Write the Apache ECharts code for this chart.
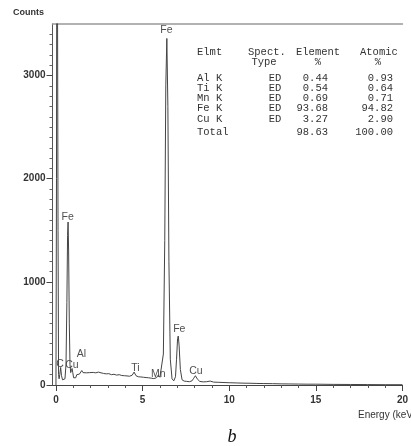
<!DOCTYPE html>
<html>
<head>
<meta charset="utf-8">
<script src="https://cdn.jsdelivr.net/npm/echarts@6.0.0/dist/echarts.min.js"></script>
<style>
  html, body { margin: 0; padding: 0; background: #fff; }
  #chart { width: 411px; height: 446px; }
</style>
</head>
<body>
<div id="chart"></div>
<script>
// EDS spectrum, energy in keV, counts
const energy = [
  0.00, 0.03, 0.06, 0.09, 0.12, 0.15, 0.18, 0.22, 0.27, 0.32, 0.38, 0.45, 0.52, 0.58, 0.63, 0.67,
  0.70, 0.73, 0.77, 0.81, 0.85, 0.89, 0.93, 0.97, 1.02, 1.08, 1.14, 1.20, 1.27, 1.35, 1.42, 1.49,
  1.56, 1.65, 1.75, 1.85, 1.95, 2.05, 2.15, 2.30, 2.45, 2.60, 2.75, 2.90, 3.05, 3.20, 3.35, 3.50,
  3.65, 3.80, 3.95, 4.10, 4.25, 4.40, 4.51, 4.62, 4.75, 4.90, 5.05, 5.20, 5.35, 5.50, 5.65, 5.80,
  5.90, 6.00, 6.10, 6.20, 6.28, 6.34, 6.40, 6.46, 6.52, 6.60, 6.70, 6.80, 6.90, 6.96, 7.02, 7.06,
  7.11, 7.18, 7.28, 7.40, 7.55, 7.70, 7.85, 7.95, 8.05, 8.15, 8.30, 8.50, 8.70, 8.90, 9.10, 9.40,
  9.70, 10.0, 10.4, 10.8, 11.2, 11.6, 12.0, 12.5, 13.0, 13.5, 14.0, 14.5, 15.0, 16.0, 17.0, 18.0,
  19.0, 20.0
];
const counts = [
  0, 2000, 6000, 6000, 1500, 100, 60, 100, 170, 90, 50, 40, 60, 200, 800, 1450,
  1580, 1300, 600, 200, 120, 140, 160, 120, 70, 55, 70, 100, 110, 105, 120, 140,
  120, 112, 118, 110, 120, 115, 122, 118, 125, 118, 112, 108, 110, 100, 104, 96,
  100, 92, 90, 88, 85, 95, 125, 90, 80, 78, 75, 72, 70, 66, 62, 70,
  95, 75, 90, 300, 1400, 2900, 3360, 2700, 1200, 250, 60, 40, 80, 250, 450, 475,
  380, 150, 50, 38, 35, 32, 40, 65, 90, 60, 35, 30, 32, 38, 28, 26,
  24, 22, 20, 18, 17, 15, 14, 13, 11, 10, 9, 8, 8, 6, 5, 4,
  3, 3
];

// peak labels: name, energy, counts (label centre)
const peakNames = ['C', 'Cu', 'Fe', 'Al', 'Ti', 'Mn', 'Fe', 'Fe', 'Cu'];
const peakX = [0.23, 0.92, 0.68, 1.47, 4.58, 5.9, 6.38, 7.12, 8.08];
const peakY = [205, 195, 1630, 300, 165, 110, 3440, 540, 135];

// tick values
const xMajorTicks = [0, 5, 10, 15, 20];
const xMinorTicks = [0, 1, 2, 3, 4, 5, 6, 7, 8, 9, 10, 11, 12, 13, 14, 15, 16, 17, 18, 19, 20];
const yMajorTicks = [0, 1000, 2000, 3000];
const yMinorTicks = [0, 100, 200, 300, 400, 500, 600, 700, 800, 900, 1000, 1100, 1200, 1300, 1400, 1500,
  1600, 1700, 1800, 1900, 2000, 2100, 2200, 2300, 2400, 2500, 2600, 2700, 2800, 2900, 3000, 3100,
  3200, 3300, 3400];

// composition table
const tblElmt = ['Elmt', '', 'Al K', 'Ti K', 'Mn K', 'Fe K', 'Cu K', 'Total'];
const tblType = ['Spect.', 'Type', 'ED', 'ED', 'ED', 'ED', 'ED', ''];
const tblElement = ['Element', '%', '0.44', '0.54', '0.69', '93.68', '3.27', '98.63'];
const tblAtomic = ['Atomic', '%', '0.93', '0.64', '0.71', '94.82', '2.90', '100.00'];
const tblRowY = [52, 62, 78, 88, 98, 108, 119, 132];

const ink = '#333';
const mono = '"Liberation Mono", "DejaVu Sans Mono", monospace';
const sans = '"Liberation Sans", Arial, sans-serif';

let tableTexts = [];
tblRowY.forEach(function (y, i) {
  tableTexts.push({ type: 'text', x: 197, y: y, style: { text: tblElmt[i], font: '10.5px ' + mono, fill: ink, textVerticalAlign: 'middle' } });
  if (i === 0) {
    tableTexts.push({ type: 'text', x: 248, y: y, style: { text: tblType[i], font: '10.5px ' + mono, fill: ink, textVerticalAlign: 'middle' } });
    tableTexts.push({ type: 'text', x: 296, y: y, style: { text: tblElement[i], font: '10.5px ' + mono, fill: ink, textVerticalAlign: 'middle' } });
    tableTexts.push({ type: 'text', x: 360, y: y, style: { text: tblAtomic[i], font: '10.5px ' + mono, fill: ink, textVerticalAlign: 'middle' } });
  } else if (i === 1) {
    tableTexts.push({ type: 'text', x: 264, y: y, style: { text: tblType[i], font: '10.5px ' + mono, fill: ink, textAlign: 'center', textVerticalAlign: 'middle' } });
    tableTexts.push({ type: 'text', x: 318, y: y, style: { text: tblElement[i], font: '10.5px ' + mono, fill: ink, textAlign: 'center', textVerticalAlign: 'middle' } });
    tableTexts.push({ type: 'text', x: 378, y: y, style: { text: tblAtomic[i], font: '10.5px ' + mono, fill: ink, textAlign: 'center', textVerticalAlign: 'middle' } });
  } else {
    tableTexts.push({ type: 'text', x: 275, y: y, style: { text: tblType[i], font: '10.5px ' + mono, fill: ink, textAlign: 'center', textVerticalAlign: 'middle' } });
    tableTexts.push({ type: 'text', x: 328, y: y, style: { text: tblElement[i], font: '10.5px ' + mono, fill: ink, textAlign: 'right', textVerticalAlign: 'middle' } });
    tableTexts.push({ type: 'text', x: 393, y: y, style: { text: tblAtomic[i], font: '10.5px ' + mono, fill: ink, textAlign: 'right', textVerticalAlign: 'middle' } });
  }
});

let spectrum = energy.map(function (e, i) { return [e, counts[i]]; });
let peakLabels = peakNames.map(function (n, i) { return [peakX[i], peakY[i], n]; });

let option = {
  animation: false,
  backgroundColor: '#fff',
  grid: { left: 52.5, right: 1, top: 24, bottom: 61 },
  xAxis: [
    {
      type: 'value', min: -0.2, max: 20, position: 'bottom',
      axisLine: { show: true, onZero: false, lineStyle: { color: '#444', width: 1 } },
      axisTick: { show: true, length: 3, customValues: xMinorTicks, lineStyle: { color: '#555' } },
      axisLabel: { show: false },
      splitLine: { show: false }
    },
    {
      type: 'value', min: -0.2, max: 20, position: 'bottom',
      axisLine: { show: false, onZero: false },
      axisTick: { show: true, length: 6, customValues: xMajorTicks, lineStyle: { color: '#444' } },
      axisLabel: {
        customValues: xMajorTicks, fontSize: 10, fontWeight: 'bold', fontFamily: sans, color: ink, margin: 10,
        formatter: function (v) { return String(v); }
      },
      splitLine: { show: false }
    },
    {
      type: 'value', min: -0.2, max: 20, position: 'top',
      axisLine: { show: true, onZero: false, lineStyle: { color: '#999', width: 1.5 } },
      axisTick: { show: false },
      axisLabel: { show: false },
      splitLine: { show: false }
    }
  ],
  yAxis: [
    {
      type: 'value', min: 0, max: 3500,
      axisLine: { show: true, onZero: false, lineStyle: { color: '#555', width: 1 } },
      axisTick: { show: true, length: 3, customValues: yMinorTicks, lineStyle: { color: '#666' } },
      axisLabel: { show: false },
      splitLine: { show: false }
    },
    {
      type: 'value', min: 0, max: 3500, position: 'left',
      axisLine: { show: false, onZero: false },
      axisTick: { show: true, length: 6, customValues: yMajorTicks, lineStyle: { color: '#444' } },
      axisLabel: {
        customValues: yMajorTicks, fontSize: 10, fontWeight: 'bold', fontFamily: sans, color: ink, margin: 7,
        formatter: function (v) { return String(v); }
      },
      splitLine: { show: false }
    }
  ],
  series: [
    {
      type: 'line',
      data: spectrum,
      xAxisIndex: 0, yAxisIndex: 0,
      showSymbol: false,
      clip: true,
      lineStyle: { color: '#444', width: 1 }
    },
    {
      type: 'scatter',
      data: peakLabels,
      xAxisIndex: 0, yAxisIndex: 0,
      symbolSize: 0,
      silent: true,
      label: {
        show: true, position: 'inside',
        formatter: function (p) { return p.data[2]; },
        fontSize: 10.5, fontFamily: sans, color: '#222'
      }
    }
  ],
  graphic: tableTexts.concat([
    { type: 'text', x: 13, y: 13, style: { text: 'Counts', font: 'bold 9px ' + sans, fill: ink, textVerticalAlign: 'middle' } },
    { type: 'text', x: 358, y: 415, style: { text: 'Energy (keV)', font: '10px ' + sans, fill: ink, textVerticalAlign: 'middle' } },
    { type: 'text', x: 232, y: 437, style: { text: 'b', font: 'italic 18px "Liberation Serif", serif', fill: '#111', textAlign: 'center', textVerticalAlign: 'middle' } }
  ])
};

let myChart = echarts.init(document.getElementById('chart'));
myChart.setOption(option);
window.onresize = function () {
  myChart.resize();
};
</script>
</body>
</html>
